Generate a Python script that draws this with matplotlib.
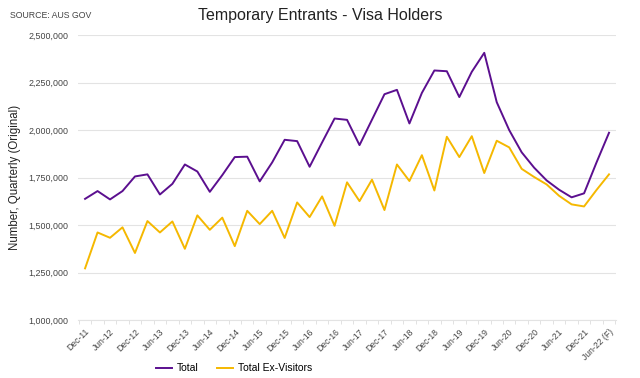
import matplotlib
matplotlib.use("Agg")
import matplotlib.pyplot as plt
from matplotlib.ticker import FuncFormatter, FixedLocator

plt.rcParams['font.family'] = ['Liberation Sans', 'DejaVu Sans']

quarters = ["Dec-11", "Mar-12", "Jun-12", "Sep-12", "Dec-12", "Mar-13", "Jun-13", "Sep-13",
            "Dec-13", "Mar-14", "Jun-14", "Sep-14", "Dec-14", "Mar-15", "Jun-15", "Sep-15",
            "Dec-15", "Mar-16", "Jun-16", "Sep-16", "Dec-16", "Mar-17", "Jun-17", "Sep-17",
            "Dec-17", "Mar-18", "Jun-18", "Sep-18", "Dec-18", "Mar-19", "Jun-19", "Sep-19",
            "Dec-19", "Mar-20", "Jun-20", "Sep-20", "Dec-20", "Mar-21", "Jun-21", "Sep-21",
            "Dec-21", "Mar-22", "Jun-22 (F)"]

total = [1638000, 1679000, 1635000, 1679000, 1756000, 1767000, 1661000, 1717000,
         1819000, 1782000, 1675000, 1763000, 1858000, 1860000, 1730000, 1830000,
         1949000, 1942000, 1807000, 1935000, 2061000, 2054000, 1921000, 2055000,
         2189000, 2212000, 2035000, 2196000, 2314000, 2310000, 2174000, 2307000,
         2407000, 2147000, 2000000, 1883000, 1802000, 1735000, 1686000, 1646000,
         1667000, 1830000, 1986000]

ex_visitors = [1272000, 1461000, 1433000, 1488000, 1353000, 1521000, 1461000, 1519000,
               1375000, 1551000, 1475000, 1539000, 1389000, 1575000, 1505000, 1575000,
               1432000, 1619000, 1542000, 1651000, 1496000, 1725000, 1626000, 1739000,
               1579000, 1819000, 1732000, 1868000, 1682000, 1965000, 1858000, 1968000,
               1774000, 1944000, 1909000, 1796000, 1753000, 1714000, 1654000, 1609000,
               1598000, 1685000, 1767000]

yticks = [1000000, 1250000, 1500000, 1750000, 2000000, 2250000, 2500000]

fig = plt.figure(figsize=(6.4, 3.78), dpi=100)
ax = fig.add_axes([0.122, 0.1534, 0.8405, 0.7536])

x = list(range(len(quarters)))
ax.plot(x, total, color="#5b0f8f", lw=1.4, label="Total")
ax.plot(x, ex_visitors, color="#f5b800", lw=1.4, label="Total Ex-Visitors")

ax.set_xlim(-0.56, len(quarters) - 1 + 0.56)
ax.set_ylim(1000000, 2500000)
ax.set_yticks(yticks)
ax.yaxis.set_major_formatter(FuncFormatter(lambda v, p: f"{int(v):,}"))
ax.grid(axis="y", color="#e3e3e3", lw=0.8)
ax.set_axisbelow(True)
for s in ["top", "right", "left"]:
    ax.spines[s].set_visible(False)
ax.spines["bottom"].set_color("#e3e3e3")
ax.tick_params(axis="y", length=0, labelsize=6.4, labelcolor="#444444", pad=7)

major = x[::2]
ax.set_xticks(major)
ax.set_xticklabels([quarters[i] for i in major], rotation=45, ha="right",
                   rotation_mode="anchor", fontsize=6.2, color="#444444")
ax.tick_params(axis="x", length=0, pad=5)
ax.xaxis.set_minor_locator(FixedLocator([i + 0.5 for i in range(-1, len(quarters))]))
ax.tick_params(axis="x", which="minor", length=3, color="#dddddd", width=0.6)

ax.set_ylabel("Number, Quarterly (Original)", fontsize=8.3, color="#222222", labelpad=5)
fig.text(0.5, 0.958, "Temporary Entrants - Visa Holders", ha="center", va="center",
         fontsize=11.5, color="#222222")
fig.text(0.015, 0.96, "SOURCE: AUS GOV", ha="left", va="center", fontsize=6.3, color="#444444")

fig.legend(loc="lower center", bbox_to_anchor=(0.366, -0.012), ncol=2, frameon=False,
           fontsize=7.5, handlelength=1.5, columnspacing=1.8, handletextpad=0.5)

fig.savefig("out.png", dpi=100)
